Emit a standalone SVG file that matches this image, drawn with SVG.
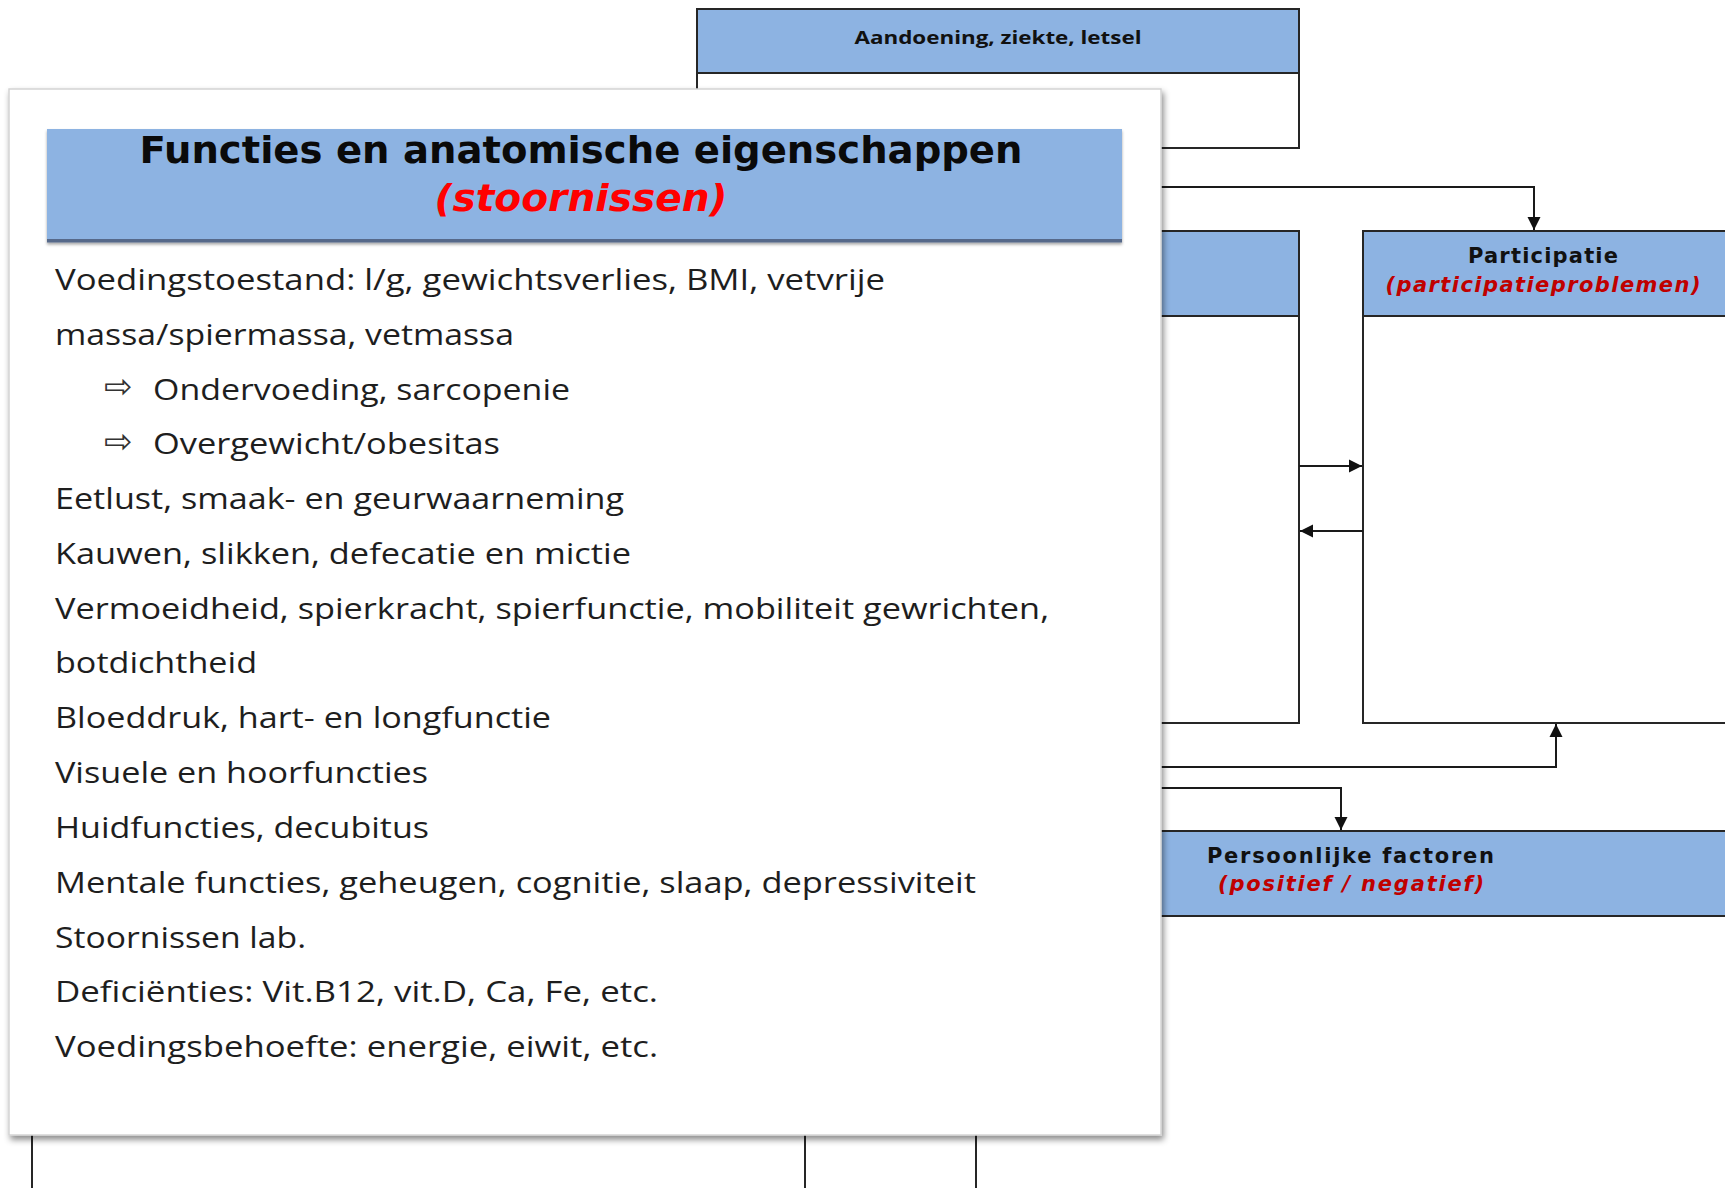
<svg xmlns="http://www.w3.org/2000/svg" width="1725" height="1188" viewBox="0 0 1725 1188">
  <style>
    .box{fill:#ffffff;stroke:#262626;stroke-width:2}
    .hdr{fill:#8db3e2;stroke:#262626;stroke-width:2}
    .conn{fill:none;stroke:#1a1a1a;stroke-width:2}
    .hd{font-family:"DejaVu Sans",Verdana,sans-serif;font-weight:bold;fill:#111}
    .sub{font-family:"DejaVu Sans",Verdana,sans-serif;font-weight:bold;font-style:italic;fill:#c00000}
    .body{font-family:"Open Sans","Noto Sans",sans-serif;font-size:30px;fill:#1e1e1e}
    .arr{font-family:"DejaVu Sans",sans-serif;font-size:34px;fill:#333}
  </style>
  <defs>
    <marker id="ah" viewBox="0 0 10 10" refX="10" refY="5" markerWidth="13" markerHeight="14" markerUnits="userSpaceOnUse" orient="auto">
      <path d="M0,0 L10,5 L0,10 z" fill="#111"/>
    </marker>
    <filter id="sh" x="-5%" y="-5%" width="110%" height="110%">
      <feDropShadow dx="2" dy="4" stdDeviation="3" flood-color="#000" flood-opacity="0.45"/>
    </filter>
    <filter id="bsh" x="-2%" y="-20%" width="104%" height="140%">
      <feDropShadow dx="0" dy="2" stdDeviation="1.5" flood-color="#000" flood-opacity="0.35"/>
    </filter>
  </defs>
  <rect width="1725" height="1188" fill="#ffffff"/>

  <g id="node-aandoening">
    <rect class="box" x="697" y="9" width="602" height="139"/>
    <rect class="hdr" x="697" y="9" width="602" height="64"/>
    <text x="998" y="44" text-anchor="middle" font-family="Open Sans, Noto Sans, sans-serif" font-weight="bold" font-size="17" fill="#111" textLength="287" lengthAdjust="spacingAndGlyphs">Aandoening, ziekte, letsel</text>
  </g>

  <g id="node-activiteiten">
    <rect class="box" x="976" y="231" width="323" height="492"/>
    <rect class="hdr" x="976" y="231" width="323" height="85"/>
  </g>

  <g id="node-participatie">
    <rect class="box" x="1363" y="231" width="400" height="492"/>
    <rect class="hdr" x="1363" y="231" width="400" height="85"/>
    <text class="hd" x="1543" y="263" text-anchor="middle" font-size="21" textLength="150" lengthAdjust="spacing">Participatie</text>
    <text class="sub" x="1543" y="292" text-anchor="middle" font-size="21" textLength="315" lengthAdjust="spacing">(participatieproblemen)</text>
  </g>

  <g id="node-externe">
    <rect class="box" x="32" y="831" width="773" height="420"/>
  </g>

  <g id="node-persoonlijk">
    <rect class="box" x="976" y="831" width="800" height="420"/>
    <rect class="hdr" x="976" y="831" width="800" height="85"/>
    <text class="hd" x="1207" y="863" font-size="21" textLength="287" lengthAdjust="spacing">Persoonlijke factoren</text>
    <text class="sub" x="1218" y="891" font-size="21" textLength="266" lengthAdjust="spacing">(positief / negatief)</text>
  </g>

  <g id="connectors">
    <path class="conn" d="M1100,187 H1534 V230" marker-end="url(#ah)"/>
    <path class="conn" d="M1299,466 H1362" marker-end="url(#ah)"/>
    <path class="conn" d="M1363,531 H1300" marker-end="url(#ah)"/>
    <path class="conn" d="M1100,767 H1556 V724" marker-end="url(#ah)"/>
    <path class="conn" d="M1100,788 H1341 V830" marker-end="url(#ah)"/>
  </g>

  <g id="node-functies">
    <rect x="9" y="89" width="1152" height="1046" fill="#ffffff" stroke="#d4d4d4" stroke-width="1.5" filter="url(#sh)"/>
    <g filter="url(#bsh)">
      <rect x="47" y="129" width="1075" height="111" fill="#8db3e2"/>
      <rect x="47" y="239" width="1075" height="3.5" fill="#56698a"/>
    </g>
    <text x="581" y="163" text-anchor="middle" font-family="DejaVu Sans, Verdana, sans-serif" font-weight="bold" font-size="38" fill="#0a0a0a" textLength="883" lengthAdjust="spacingAndGlyphs">Functies en anatomische eigenschappen</text>
    <text x="581" y="211" text-anchor="middle" font-family="DejaVu Sans, Verdana, sans-serif" font-weight="bold" font-style="italic" font-size="38" fill="#ff0000" textLength="293" lengthAdjust="spacingAndGlyphs">(stoornissen)</text>

    <text class="body" x="55" y="290" textLength="830" lengthAdjust="spacingAndGlyphs">Voedingstoestand: l/g, gewichtsverlies, BMI, vetvrije</text>
    <text class="body" x="55" y="345" textLength="459" lengthAdjust="spacingAndGlyphs">massa/spiermassa, vetmassa</text>
    <text class="arr" x="104" y="398">⇨</text>
    <text class="body" x="153" y="400" textLength="417" lengthAdjust="spacingAndGlyphs">Ondervoeding, sarcopenie</text>
    <text class="arr" x="104" y="453">⇨</text>
    <text class="body" x="153" y="454" textLength="347" lengthAdjust="spacingAndGlyphs">Overgewicht/obesitas</text>
    <text class="body" x="55" y="509" textLength="569" lengthAdjust="spacingAndGlyphs">Eetlust, smaak- en geurwaarneming</text>
    <text class="body" x="55" y="564" textLength="576" lengthAdjust="spacingAndGlyphs">Kauwen, slikken, defecatie en mictie</text>
    <text class="body" x="55" y="619" textLength="994" lengthAdjust="spacingAndGlyphs">Vermoeidheid, spierkracht, spierfunctie, mobiliteit gewrichten,</text>
    <text class="body" x="55" y="673" textLength="202" lengthAdjust="spacingAndGlyphs">botdichtheid</text>
    <text class="body" x="55" y="728" textLength="496" lengthAdjust="spacingAndGlyphs">Bloeddruk, hart- en longfunctie</text>
    <text class="body" x="55" y="783" textLength="373" lengthAdjust="spacingAndGlyphs">Visuele en hoorfuncties</text>
    <text class="body" x="55" y="838" textLength="374" lengthAdjust="spacingAndGlyphs">Huidfuncties, decubitus</text>
    <text class="body" x="55" y="893" textLength="921" lengthAdjust="spacingAndGlyphs">Mentale functies, geheugen, cognitie, slaap, depressiviteit</text>
    <text class="body" x="55" y="948" textLength="251" lengthAdjust="spacingAndGlyphs">Stoornissen lab.</text>
    <text class="body" x="55" y="1002" textLength="603" lengthAdjust="spacingAndGlyphs">Deficiënties: Vit.B12, vit.D, Ca, Fe, etc.</text>
    <text class="body" x="55" y="1057" textLength="603" lengthAdjust="spacingAndGlyphs">Voedingsbehoefte: energie, eiwit, etc.</text>
  </g>
</svg>
